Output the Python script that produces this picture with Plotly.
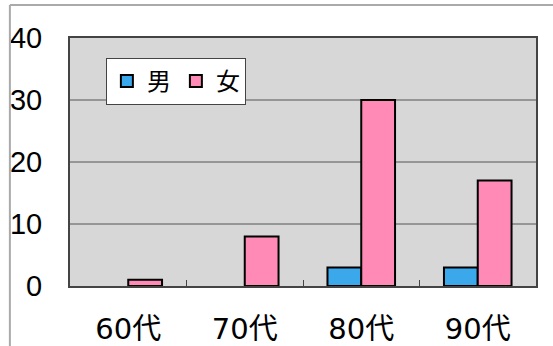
import plotly.graph_objects as go

# age groups and counts
ages = ["60代", "70代", "80代", "90代"]
male = [0, 0, 3, 3]
female = [1, 8, 30, 17]
grid_vals = [10, 20, 30]


def bar(vals, name, color):
    # zero-height bars have no outline in the original; the legend swatch takes
    # its outline from the first point, so feed non-zero points first
    order = sorted(range(len(vals)), key=lambda i: vals[i] == 0)
    return go.Bar(x=[ages[i] for i in order], y=[vals[i] for i in order], name=name,
                  marker=dict(color=color, line=dict(color="black",
                              width=[0 if vals[i] == 0 else 2 for i in order])))


fig = go.Figure()
fig.add_trace(bar(male, "男", "#3aa8ea"))
fig.add_trace(bar(female, "女", "#ff8ab6"))

# gridlines under the bars
shapes = [dict(type="line", xref="paper", yref="y", x0=0, x1=1, y0=g, y1=g, layer="below",
               line=dict(color="#555", width=1)) for g in grid_vals]
# outer frame of the scanned page
shapes += [
    dict(type="line", xref="paper", yref="paper", x0=-0.129, x1=1.05, y0=1.133, y1=1.133,
         line=dict(color="#aaaaaa", width=2)),
    dict(type="line", xref="paper", yref="paper", x0=-0.129, x1=-0.129, y0=1.133, y1=-0.25,
         line=dict(color="#aaaaaa", width=2)),
]

fig.update_layout(
    width=553, height=346,
    margin=dict(l=70, r=17, t=38, b=60),
    paper_bgcolor="white",
    plot_bgcolor="#d7d7d7",
    barmode="group",
    bargap=0.42,
    bargroupgap=0,
    font=dict(family="Liberation Sans, Noto Sans CJK JP", color="black"),
    showlegend=True,
    legend=dict(x=0.077, y=0.92, xanchor="left", yanchor="top",
                orientation="h", bgcolor="white", bordercolor="#444", borderwidth=1,
                font=dict(size=24, family="Noto Sans CJK JP"),
                itemwidth=30, tracegroupgap=0),
    xaxis=dict(categoryorder="array", categoryarray=ages,
               showgrid=False, ticks="inside", tickson="boundaries", ticklen=6,
               tickcolor="#444", showline=True, linecolor="#444", linewidth=2,
               mirror=True, tickfont=dict(size=29, family="DejaVu Sans, Noto Sans CJK JP"),
               ticklabelstandoff=16, automargin=False, layer="above traces"),
    yaxis=dict(range=[0, 40], dtick=10, showgrid=False,
               showline=True, linecolor="#444", linewidth=2, mirror=True,
               tickfont=dict(size=29), ticklabelstandoff=20, zeroline=False,
               automargin=False, layer="above traces"),
    shapes=shapes,
)

# drop the default 8px page margin so the figure fills the window exactly
fig.write_html("out.html", config={"displayModeBar": False},
               post_script="document.body.style.margin='0';document.body.style.overflow='hidden';")
